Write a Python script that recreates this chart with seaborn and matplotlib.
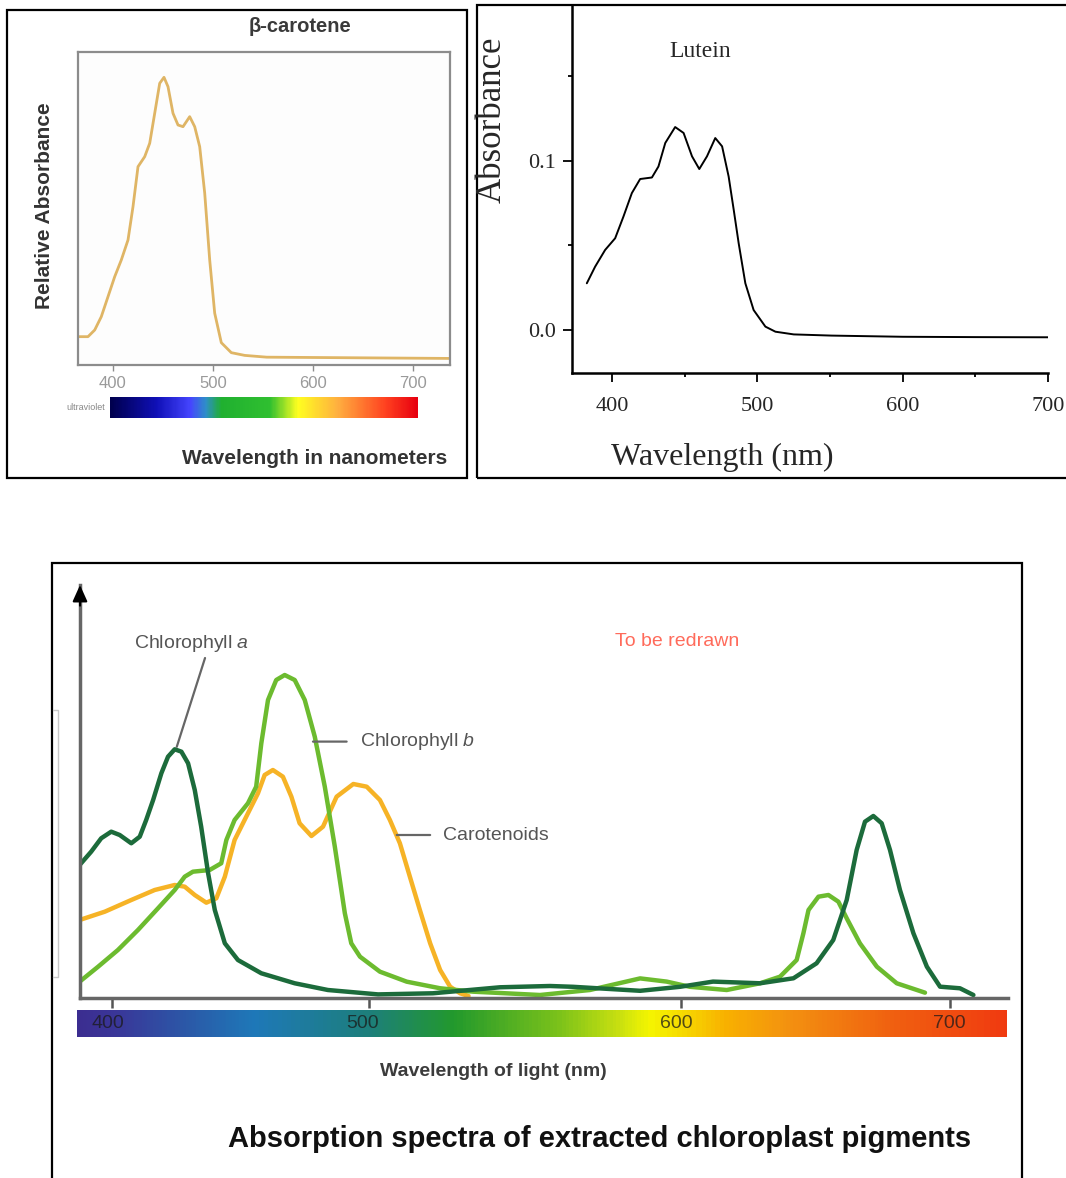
import numpy as np
import seaborn as sns
import matplotlib.pyplot as plt
from matplotlib.colors import LinearSegmentedColormap
from matplotlib.patches import Rectangle
from matplotlib.lines import Line2D

# ---- data ----
# beta-carotene (relative absorbance, 0..1)
beta_nm = [365, 375, 381.7, 388.3, 395, 401.7, 408.3, 415, 420, 425, 431.7, 436.7, 441.7,
           446.7, 451, 455, 460, 465, 470, 476.7, 481.7, 486.7, 491.7, 496.7, 501.7,
           508.3, 518.3, 531.7, 553.7, 737]
beta_abs = [0.0905, 0.0905, 0.1118, 0.1544, 0.2183, 0.2822, 0.3355, 0.3994, 0.5059,
            0.6336, 0.6656, 0.7084, 0.8042, 0.90, 0.9191, 0.8892, 0.8042, 0.7668, 0.7614,
            0.7934, 0.7614, 0.6976, 0.5495, 0.3355, 0.1655, 0.0714, 0.0394, 0.0307,
            0.025, 0.021]

# lutein
lut_nm = [382.6, 388.3, 395.2, 402.1, 407.8, 413.6, 419.3, 427.4, 431.9, 436.6, 443.4,
          449.2, 455.0, 460.0, 465.3, 471.0, 475.7, 480.2, 483.7, 487.1, 491.7, 497.4,
          505.5, 512.4, 525, 551, 600, 650, 700]
lut_abs = [0.0276, 0.0374, 0.0473, 0.0542, 0.0670, 0.0809, 0.0892, 0.0901, 0.0966,
           0.1105, 0.1199, 0.1164, 0.1026, 0.0951, 0.1026, 0.1134, 0.1085, 0.0907,
           0.0710, 0.0513, 0.0276, 0.0118, 0.0020, -0.0010, -0.0026, -0.0033, -0.0040,
           -0.0042, -0.0043]

# chloroplast pigments (arbitrary units)
chla_nm = [387.4, 391.9, 395.8, 399.7, 403.0, 407.5, 410.8, 413.3, 416.0, 419.2, 421.8,
           424.4, 427.0, 429.6, 432.2, 434.7, 437.4, 440.0, 443.9, 449.0, 458.1, 471.1,
           484.0, 502.9, 520.5, 542.0, 558.0, 565.4, 586.9, 599.7, 611.9, 629.4, 641.8,
           650.4, 656.6, 661.6, 665.3, 668.4, 671.5, 674.6, 677.7, 681.4, 686.4, 691.4,
           696.3, 703.7, 708.7]
chla_abs = [0.3325, 0.3658, 0.3993, 0.4158, 0.4075, 0.3868, 0.4033, 0.445, 0.495,
            0.5618, 0.6033, 0.6218, 0.6158, 0.5868, 0.52, 0.4283, 0.3118, 0.22, 0.1368,
            0.095, 0.0618, 0.0368, 0.02, 0.009, 0.0118, 0.0268, 0.03, 0.028, 0.018,
            0.028, 0.041, 0.0368, 0.0493, 0.0868, 0.145, 0.245, 0.37, 0.4408, 0.455,
            0.4368, 0.37, 0.27, 0.1618, 0.0783, 0.0283, 0.0243, 0.0075]

chlb_nm = [387.4, 394.6, 402.3, 410.1, 417.9, 424.4, 428.3, 431.5, 438.0, 442.5, 444.5,
           447.7, 452.9, 456.1, 458.1, 460.7, 463.9, 467.2, 471.1, 475.0, 478.9, 482.8,
           486.7, 490.6, 493.1, 496.5, 503.5, 512.1, 522.8, 533.4, 542.0, 554.8, 570.8,
           586.9, 595.4, 603.3, 617.0, 629.4, 636.8, 643.0, 645.5, 647.4, 651.1, 654.8,
           658.5, 661.6, 666.5, 672.8, 680.2, 690.7]
chlb_abs = [0.0408, 0.0783, 0.12, 0.17, 0.2243, 0.27, 0.3033, 0.3158, 0.32, 0.3368,
            0.395, 0.445, 0.4868, 0.5283, 0.6368, 0.745, 0.795, 0.8075, 0.795, 0.745,
            0.6533, 0.5283, 0.3783, 0.2118, 0.1368, 0.1033, 0.0658, 0.0408, 0.0243,
            0.0158, 0.0125, 0.0075, 0.02, 0.049, 0.041, 0.028, 0.02, 0.0368, 0.0533,
            0.095, 0.1618, 0.22, 0.2533, 0.2575, 0.2408, 0.1993, 0.1368, 0.0783, 0.0368,
            0.0133]

car_nm = [387.4, 397.2, 407.5, 416.6, 424.4, 428.3, 432.2, 436.7, 440.6, 443.9, 447.7,
          452.9, 456.8, 459.4, 462.6, 466.5, 469.8, 473.0, 477.6, 482.1, 487.4, 493.9,
          499.1, 503.5, 506.7, 509.9, 513.1, 516.3, 519.6, 522.8, 526.0, 529.2, 531.9]
car_abs = [0.195, 0.2158, 0.245, 0.27, 0.2825, 0.2783, 0.2575, 0.2383, 0.2493, 0.3033,
           0.395, 0.4618, 0.5118, 0.5575, 0.57, 0.5533, 0.5033, 0.4368, 0.405, 0.4283,
           0.5033, 0.535, 0.5283, 0.495, 0.445, 0.3868, 0.3033, 0.22, 0.1368, 0.07,
           0.0283, 0.0118, 0.005]

ticks_nm = [400, 500, 600, 700]

# ---- figure helpers (pixel layout) ----
W, H = 1066, 1178
sns.set_style("white")
plt.rcParams["font.family"] = ["Liberation Sans", "DejaVu Sans"]
plt.rcParams["mathtext.fontset"] = "custom"
plt.rcParams["mathtext.rm"] = "Liberation Sans"
plt.rcParams["mathtext.it"] = "Liberation Sans:italic"
plt.rcParams["lines.solid_joinstyle"] = "round"
plt.rcParams["lines.solid_capstyle"] = "round"

fig = plt.figure(figsize=(W / 100, H / 100), dpi=100)
fig.patch.set_facecolor("white")


def rect(x0, y0, x1, y1):
    return [x0 / W, 1 - y1 / H, (x1 - x0) / W, (y1 - y0) / H]


def ftext(x, y, s, **kw):
    fig.text(x / W, 1 - y / H, s, **kw)


def box(x0, y0, x1, y1, lw=1.6):
    fig.add_artist(Rectangle((x0 / W, 1 - y1 / H), (x1 - x0) / W, (y1 - y0) / H,
                             transform=fig.transFigure, fill=False, ec="black", lw=lw))


box(7, 10, 467, 478)
box(477, 5, 1070, 478)
box(52, 563, 1022, 1190)

# ================= panel 1 : beta-carotene =================
ax1 = fig.add_axes(rect(78, 52, 450, 365))
sns.lineplot(x=beta_nm, y=beta_abs, ax=ax1, color="#dfb565", lw=2.0,
             sort=False, estimator=None)
ax1.set_xlim(365, 737)
ax1.set_ylim(0, 1)
for sp in ax1.spines.values():
    sp.set_color("#8c8c8c")
    sp.set_linewidth(1.6)
ax1.set_facecolor("#fdfdfd")
ax1.set_xticks(ticks_nm)
ax1.set_yticks([])
ax1.tick_params(axis="x", direction="out", length=4, width=1, color="#8c8c8c",
                labelcolor="#9a9a9a", labelsize=12, pad=4, bottom=True)
ax1.set_xlabel("")
ax1.set_ylabel("")

ftext(300, 27, "β-carotene", ha="center", va="center", fontsize=14.5,
      fontweight="bold", color="#3a3a3a")
ftext(45, 206, "Relative Absorbance", ha="center", va="center", rotation=90,
      fontsize=15, fontweight="bold", color="#333333")
ftext(447, 458, "Wavelength in nanometers", ha="right", va="center", fontsize=15,
      fontweight="bold", color="#333333")
ftext(105, 408, "ultraviolet", ha="right", va="center", fontsize=6.5, color="#888888")

spec1 = LinearSegmentedColormap.from_list("spec1", [
    (0.0, "#00004e"), (0.15, "#1010b8"), (0.26, "#4646ff"), (0.31, "#2f8fc8"),
    (0.36, "#20b030"), (0.52, "#30c030"), (0.61, "#ffff20"), (0.74, "#ffb040"),
    (0.9, "#ff4020"), (1.0, "#e80010")])
cb1 = fig.add_axes(rect(110, 397, 417, 418))
cb1.imshow(np.linspace(0, 1, 300)[None, :], aspect="auto", cmap=spec1)
cb1.axis("off")

# ================= panel 2 : lutein =================
serif = ["Liberation Serif", "DejaVu Serif"]
ax2 = fig.add_axes(rect(572, 5, 1048, 373))
sns.lineplot(x=lut_nm, y=lut_abs, ax=ax2, color="black", lw=1.4,
             sort=False, estimator=None)
ax2.set_xlim(372.4, 700)
ax2.set_ylim(-0.0254, 0.192)
sns.despine(ax=ax2)
for side in ["left", "bottom"]:
    ax2.spines[side].set_color("black")
    ax2.spines[side].set_linewidth(1.8)
ax2.set_xticks(ticks_nm)
ax2.set_xticks([450, 550, 650], minor=True)
ax2.set_yticks([0.0, 0.1])
ax2.set_yticklabels(["0.0", "0.1"])
ax2.set_yticks([0.05, 0.15], minor=True)
ax2.tick_params(which="major", direction="out", length=6.5, width=1.3, color="black",
                labelsize=16, left=True, bottom=True)
ax2.tick_params(which="minor", direction="out", length=3, width=1.3, color="black",
                left=True, bottom=True)
ax2.tick_params(axis="x", pad=11)
ax2.tick_params(axis="y", pad=5)
for lab in ax2.get_xticklabels() + ax2.get_yticklabels():
    lab.set_family(serif)
ax2.set_xlabel("")
ax2.set_ylabel("")
ax2.text(460.7, 0.1645, "Lutein", ha="center", va="center", fontsize=17, family=serif)
ftext(492, 120, "Absorbance", ha="center", va="center", rotation=90, fontsize=25,
      family=serif)
ftext(722, 457, "Wavelength (nm)", ha="center", va="center", fontsize=23, family=serif)

# ================= panel 3 : chloroplast pigments =================
KNOT_NM = [380, 400, 500, 600, 700, 740]
KNOT_PX = [60.6, 112, 369, 681, 950, 1057.6]


def fwd(v):
    return np.interp(v, KNOT_NM, KNOT_PX)


def inv(p):
    return np.interp(p, KNOT_PX, KNOT_NM)


ax3 = fig.add_axes(rect(80, 585, 1008, 998))
ax3.set_xscale("function", functions=(fwd, inv))
sns.lineplot(x=car_nm, y=car_abs, ax=ax3, color="#f6b326", lw=3.2,
             sort=False, estimator=None)
sns.lineplot(x=chlb_nm, y=chlb_abs, ax=ax3, color="#6cbb2f", lw=3.2,
             sort=False, estimator=None)
sns.lineplot(x=chla_nm, y=chla_abs, ax=ax3, color="#1c6b3b", lw=3.2,
             sort=False, estimator=None)
ax3.set_xlim(inv(80), inv(1008))
ax3.set_ylim(0, 1.0325)
sns.despine(ax=ax3)
for side in ["left", "bottom"]:
    ax3.spines[side].set_color("#666666")
    ax3.spines[side].set_linewidth(2.5)
ax3.set_xticks(ticks_nm)
ax3.set_xticklabels([])
ax3.set_yticks([])
ax3.tick_params(axis="x", direction="out", length=7, width=1.8, color="#555555",
                bottom=True)
ax3.set_xlabel("")
ax3.set_ylabel("")
ax3.annotate("", xy=(0, 1.0), xytext=(0, 0.95), xycoords="axes fraction",
             arrowprops=dict(arrowstyle="-|>,head_length=1.0,head_width=0.45",
                             color="black", lw=1.5, shrinkA=0, shrinkB=0))

lead = dict(arrowstyle="-", color="#666666", lw=1.6, shrinkA=0, shrinkB=0)
ax3.annotate("", xy=(425.2, 0.628), xytext=(436.2, 0.85), arrowprops=lead)
ax3.annotate("", xy=(478.2, 0.641), xytext=(491.3, 0.641), arrowprops=lead)
ax3.annotate("", xy=(508.9, 0.4075), xytext=(519.6, 0.4075), arrowprops=lead)
ax3.text(431.1, 0.8875, r"Chlorophyll $\mathit{a}$", ha="center", va="center",
         fontsize=14, color="#555555")
ax3.text(496.5, 0.641, r"Chlorophyll $\mathit{b}$", ha="left", va="center",
         fontsize=14, color="#555555")
ax3.text(523.7, 0.4075, "Carotenoids", ha="left", va="center", fontsize=14,
         color="#555555")
ax3.text(578.8, 0.8925, "To be redrawn", ha="left", va="center", fontsize=14,
         color="#ff6b5b")

spec3 = LinearSegmentedColormap.from_list("spec3", [
    (0.0, "#3c2a8c"), (0.1, "#3a3598"), (0.2, "#2a5aa8"), (0.3, "#1e78b8"),
    (0.4, "#1d7f7a"), (0.5, "#22992c"), (0.6, "#7cc21a"), (0.66, "#c8e010"),
    (0.7, "#f5f500"), (0.76, "#f8b000"), (0.83, "#f39010"), (0.93, "#f06010"),
    (1.0, "#f03a10")])
cb3 = fig.add_axes(rect(77, 1010, 1007, 1037))
cb3.set_xscale("function", functions=(fwd, inv))
lo, hi = inv(77), inv(1007)
stops = [380, 400, 430, 455, 500, 527, 561, 580, 590, 617, 641, 679, 722]
frac = [0.0, 0.1, 0.2, 0.3, 0.4, 0.5, 0.6, 0.66, 0.7, 0.76, 0.83, 0.93, 1.0]
wl = np.linspace(lo, hi, 600)
cb3.pcolormesh(wl, [0, 1], np.interp(wl[:-1], stops, frac)[None, :], cmap=spec3,
               vmin=0, vmax=1, shading="flat")
cb3.set_xlim(lo, hi)
cb3.set_ylim(0, 1)
cb3.axis("off")
for t, off in zip(ticks_nm, [-1.5, -2.5, -1.5, -0.3]):
    cb3.text(t + off, 0.5, str(t), ha="center", va="center", fontsize=14,
             color="#1a1a1a", alpha=0.75)

ftext(493, 1071, "Wavelength of light (nm)", ha="center", va="center", fontsize=14,
      fontweight="bold", color="#3c3c3c")
ftext(600, 1139, "Absorption spectra of extracted chloroplast pigments", ha="center",
      va="center", fontsize=21, fontweight="bold", color="#111111")

fig.add_artist(Line2D([53 / W, 58 / W, 58 / W, 53 / W],
                      [1 - 710 / H, 1 - 710 / H, 1 - 977 / H, 1 - 977 / H],
                      transform=fig.transFigure, color="#c8c8c8", lw=1))

plt.savefig("out.png", dpi=100)
